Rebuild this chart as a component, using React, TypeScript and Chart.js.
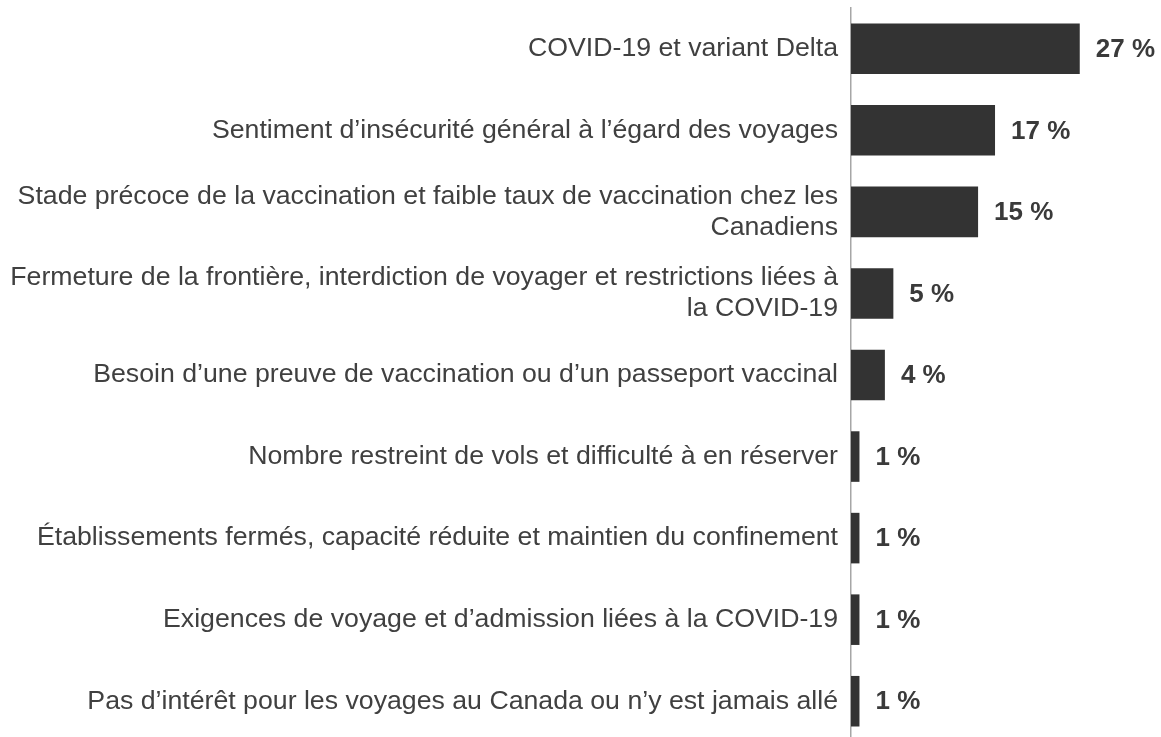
import React, { useEffect, useRef } from "react";
import { Chart, registerables } from "chart.js";

Chart.register(...registerables);

const categories: (string | string[])[] = [
  "COVID-19 et variant Delta",
  "Sentiment d’insécurité général à l’égard des voyages",
  ["Stade précoce de la vaccination et faible taux de vaccination chez les", "Canadiens"],
  ["Fermeture de la frontière, interdiction de voyager et restrictions liées à", "la COVID-19"],
  "Besoin d’une preuve de vaccination ou d’un passeport vaccinal",
  "Nombre restreint de vols et difficulté à en réserver",
  "Établissements fermés, capacité réduite et maintien du confinement",
  "Exigences de voyage et d’admission liées à la COVID-19",
  "Pas d’intérêt pour les voyages au Canada ou n’y est jamais allé",
];

const values: number[] = [27, 17, 15, 5, 4, 1, 1, 1, 1];

const FONT = "'Liberation Sans', Arial, sans-serif";

const valueLabelPlugin = {
  id: "valueLabels",
  afterDatasetsDraw(chart: any) {
    const ctx = chart.ctx;
    const meta = chart.getDatasetMeta(0);
    ctx.save();
    ctx.font = `bold 26px ${FONT}`;
    ctx.fillStyle = "#3a3a3a";
    ctx.textAlign = "left";
    ctx.textBaseline = "middle";
    meta.data.forEach((bar: any, i: number) => {
      ctx.fillText(`${values[i]} %`, bar.x + 16, bar.y + 1);
    });
    ctx.restore();
  },
};

export default function App() {
  const ref = useRef<HTMLCanvasElement | null>(null);

  useEffect(() => {
    if (!ref.current) return;
    const chart = new Chart(ref.current, {
      type: "bar",
      data: {
        labels: categories,
        datasets: [
          {
            data: values,
            backgroundColor: "#333333",
            borderWidth: 0,
            barPercentage: 0.62,
            categoryPercentage: 1,
          },
        ],
      },
      options: {
        indexAxis: "y",
        animation: false,
        responsive: false,
        maintainAspectRatio: false,
        layout: { padding: { top: 8, bottom: 8, left: 0, right: 5 } },
        plugins: {
          legend: { display: false },
          tooltip: { enabled: false },
        },
        scales: {
          x: {
            display: false,
            min: 0,
            max: 36,
          },
          y: {
            afterFit: (scale: any) => {
              scale.width = 851;
              scale.paddingTop = 0;
              scale.paddingBottom = 0;
            },
            grid: { display: false, drawTicks: false },
            border: { display: true, color: "#a6a6a6", width: 1.5 },
            ticks: {
              padding: 13,
              color: "#404040",
              font: { family: FONT, size: 26.7, lineHeight: 1.17 },
              autoSkip: false,
            },
          },
        },
      },
      plugins: [valueLabelPlugin],
    });
    return () => chart.destroy();
  }, []);

  return (
    <div
      style={{
        position: "fixed",
        left: 0,
        top: 0,
        width: 1161,
        height: 737,
        overflow: "hidden",
        background: "#ffffff",
      }}
    >
      <canvas ref={ref} width={1161} height={750} style={{ display: "block" }} />
    </div>
  );
}
